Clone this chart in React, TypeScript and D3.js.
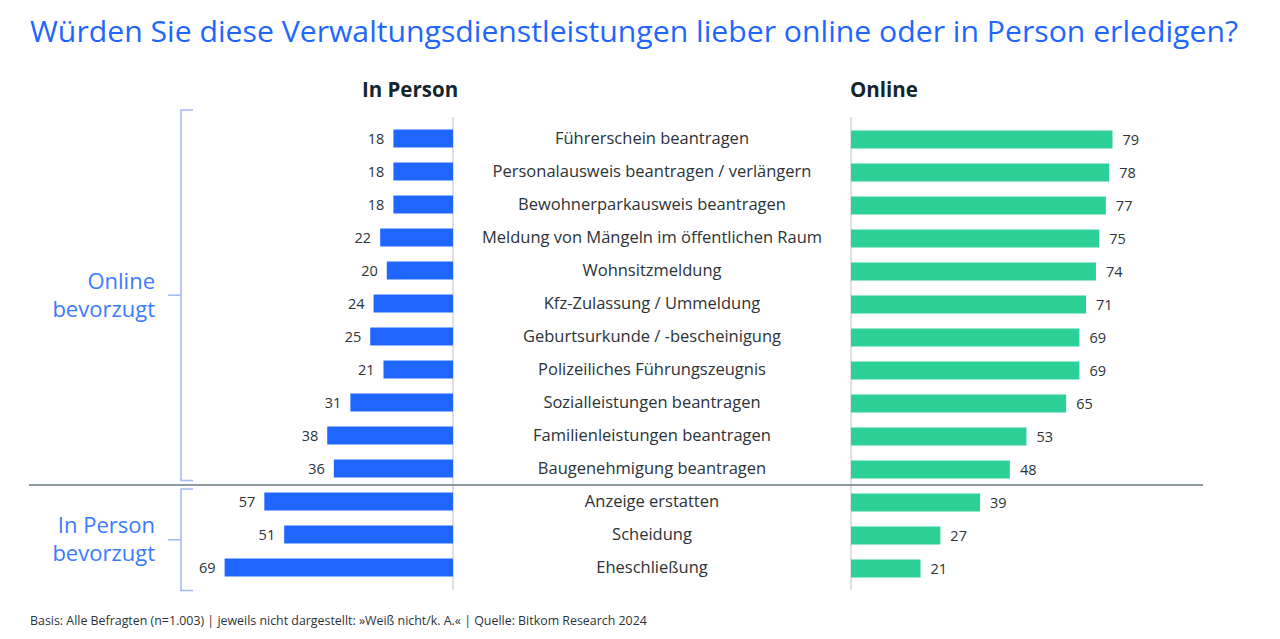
import React from "react";
import * as d3 from "d3";

const categories = [
  "Führerschein beantragen",
  "Personalausweis beantragen / verlängern",
  "Bewohnerparkausweis beantragen",
  "Meldung von Mängeln im öffentlichen Raum",
  "Wohnsitzmeldung",
  "Kfz-Zulassung / Ummeldung",
  "Geburtsurkunde / -bescheinigung",
  "Polizeiliches Führungszeugnis",
  "Sozialleistungen beantragen",
  "Familienleistungen beantragen",
  "Baugenehmigung beantragen",
  "Anzeige erstatten",
  "Scheidung",
  "Eheschließung",
];
const inPerson = [18, 18, 18, 22, 20, 24, 25, 21, 31, 38, 36, 57, 51, 69];
const online = [79, 78, 77, 75, 74, 71, 69, 69, 65, 53, 48, 39, 27, 21];
const groups = [
  { label: ["Online", "bevorzugt"], from: 0, to: 10 },
  { label: ["In Person", "bevorzugt"], from: 11, to: 13 },
];

const title = "Würden Sie diese Verwaltungsdienstleistungen lieber online oder in Person erledigen?";
const footer = "Basis: Alle Befragten (n=1.003) | jeweils nicht dargestellt: »Weiß nicht/k. A.« | Quelle: Bitkom Research 2024";

const BLUE = "#1f66ff";
const GREEN = "#2dd197";
const TEXT = "#2b3338";
const FONT = "'Open Sans', sans-serif";

export default function App() {
  const W = 1280, H = 639;
  const leftAxis = 453, rightAxis = 851, labelX = 652;
  const y = d3.scaleBand<string>().domain(categories).range([122, 122 + 14 * 33]).paddingInner(0.455).paddingOuter(0.2275);
  const x = d3.scaleLinear().domain([0, 100]).range([0, 331]);
  const bw = y.bandwidth();
  const cy = (i: number) => (y(categories[i]) as number) + bw / 2;
  const sepY = (cy(10) + cy(11)) / 2;

  return (
    <svg width={W} height={H} style={{ display: "block", position: "absolute", left: 0, top: 0 }} fontFamily={FONT}>
      <rect width={W} height={H} fill="#fff" />
      <text x={30} y={42} fontSize={29.5} fill={BLUE} textLength={1208} lengthAdjust="spacingAndGlyphs">{title}</text>
      <text x={410} y={97} fontSize={20.5} fontWeight={700} fill="#15252d" textAnchor="middle">In Person</text>
      <text x={850} y={97} fontSize={20.5} fontWeight={700} fill="#15252d">Online</text>

      <line x1={leftAxis} x2={leftAxis} y1={117} y2={590} stroke="#c8ccd0" strokeWidth={1.2} />
      <line x1={rightAxis} x2={rightAxis} y1={117} y2={590} stroke="#c8ccd0" strokeWidth={1.2} />
      <line x1={29} x2={1203} y1={sepY} y2={sepY} stroke="#6b7882" strokeWidth={1.3} />

      {categories.map((c, i) => (
        <g key={c}>
          <rect x={leftAxis - x(inPerson[i])} y={y(c)} width={x(inPerson[i])} height={bw} fill={BLUE} />
          <text x={leftAxis - x(inPerson[i]) - 9} y={cy(i)} dy="0.35em" fontSize={14.5} fill={TEXT} textAnchor="end">{inPerson[i]}</text>
          <rect x={rightAxis} y={(y(c) as number) + 1} width={x(online[i])} height={bw} fill={GREEN} />
          <text x={rightAxis + x(online[i]) + 10} y={cy(i) + 1} dy="0.35em" fontSize={14.5} fill={TEXT}>{online[i]}</text>
          <text x={labelX} y={cy(i)} dy="0.35em" fontSize={16.5} fill={TEXT} textAnchor="middle">{c}</text>
        </g>
      ))}

      {groups.map((g, k) => {
        const top = (y(categories[g.from]) as number) - (k === 0 ? 19.5 : 3.5);
        const bot = (y(categories[g.to]) as number) + bw + (k === 0 ? 3 : 14);
        const mid = (top + bot) / 2;
        const bx = 181;
        return (
          <g key={k}>
            <path d={`M${bx + 12},${top}H${bx}V${bot}H${bx + 12}M${bx},${mid}H${bx - 13}`} fill="none" stroke="#9fb8f5" strokeWidth={1.5} />
            {g.label.map((l, j) => (
              <text key={j} x={155} y={mid - 14 + j * 28} dy="0.35em" fontSize={22} fill="#3b7bff" textAnchor="end">{l}</text>
            ))}
          </g>
        );
      })}

      <text x={30} y={625} fontSize={12.4} fill={TEXT}>{footer}</text>
    </svg>
  );
}
